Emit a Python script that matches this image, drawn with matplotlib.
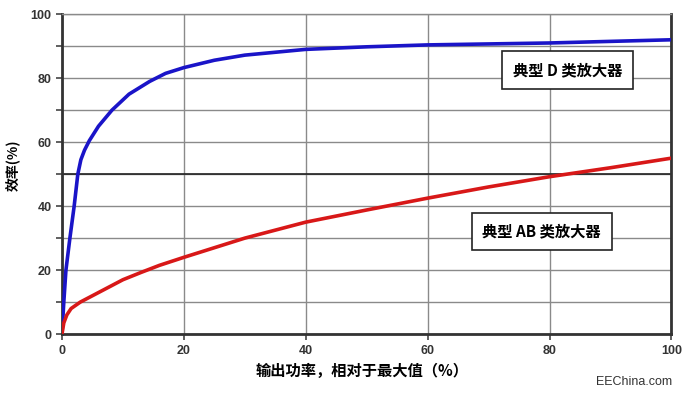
import matplotlib.pyplot as plt
import numpy as np

plt.rcParams['font.family'] = ['Noto Sans CJK SC', 'DejaVu Sans']

# class D efficiency curve (output power %, efficiency %)
d_x = [0, 0.3, 0.65, 1.3, 2.0, 2.6, 3.1, 3.7, 4.5, 6.0, 8.2, 11, 14.4, 17, 20, 25, 30, 40, 50, 60, 70, 80, 90, 100]
d_y = [0, 10, 20, 30, 40, 50, 54.5, 57.5, 60.5, 65, 70, 75, 79, 81.5, 83.3, 85.6, 87.2, 89, 89.8, 90.4, 90.7, 91, 91.5, 92]

# class AB efficiency curve
ab_x = [0, 0.3, 0.8, 1.5, 3, 5, 8, 10, 13, 16, 20, 30, 40, 50, 60, 70, 80, 90, 100]
ab_y = [0, 3.5, 6, 8, 10, 12, 15, 17, 19.3, 21.5, 24, 30, 35, 38.8, 42.5, 46, 49.2, 52, 55]

x_ticks = [0, 20, 40, 60, 80, 100]
y_ticks = [0, 20, 40, 60, 80, 100]

fig = plt.figure(figsize=(6.84, 3.94), dpi=100)
ax = fig.add_axes([0.0906, 0.152, 0.891, 0.812])

ax.plot(d_x, d_y, color='#1a14c8', lw=2.6, solid_capstyle='round',
        solid_joinstyle='round', zorder=3)
ax.plot(ab_x, ab_y, color='#d81818', lw=2.6, solid_capstyle='round',
        solid_joinstyle='round', zorder=3)

ax.set_xlim(0, 100)
ax.set_ylim(0, 100)
ax.set_xticks(x_ticks)
ax.set_yticks(y_ticks)
ax.set_yticks(np.arange(0, 101, 10), minor=True)
ax.tick_params(which='both', length=4, width=1.2, color='#444444',
               labelsize=9, labelcolor='#333333')
for lab in ax.get_xticklabels() + ax.get_yticklabels():
    lab.set_family('Liberation Sans')
    lab.set_fontweight('bold')

ax.grid(True, axis='x', which='major', color='#8a8a8a', lw=1.0)
ax.grid(True, axis='y', which='both', color='#8a8a8a', lw=1.0)
ax.axhline(50, color='#222222', lw=1.2, zorder=2)

for side in ['left', 'bottom', 'right']:
    ax.spines[side].set_color('#333333')
    ax.spines[side].set_linewidth(2)
ax.spines['top'].set_color('#8a8a8a')
ax.spines['top'].set_linewidth(1)

box = dict(boxstyle='square,pad=0.7', facecolor='white', edgecolor='#222222', lw=1.2)
ax.text(74, 82.5, '典型 D 类放大器', fontsize=11, fontweight='bold', va='center',
        ha='left', bbox=box, zorder=5, family=['Noto Sans CJK SC', 'DejaVu Sans'])
ax.text(69, 32, '典型 AB 类放大器', fontsize=11, fontweight='bold', va='center',
        ha='left', bbox=box, zorder=5, family=['Noto Sans CJK SC', 'DejaVu Sans'])

fig.text(0.018, 0.58, '效率(%)', rotation=90, fontsize=10, fontweight='bold',
         ha='center', va='center')
fig.text(0.53, 0.058, '输出功率，相对于最大值（%）', fontsize=11, fontweight='bold',
         ha='center', va='center')
fig.text(0.982, 0.03, 'EEChina.com', fontsize=9, color='#333333', ha='right',
         va='center', family='Liberation Sans')

fig.savefig('out.png', dpi=100)
